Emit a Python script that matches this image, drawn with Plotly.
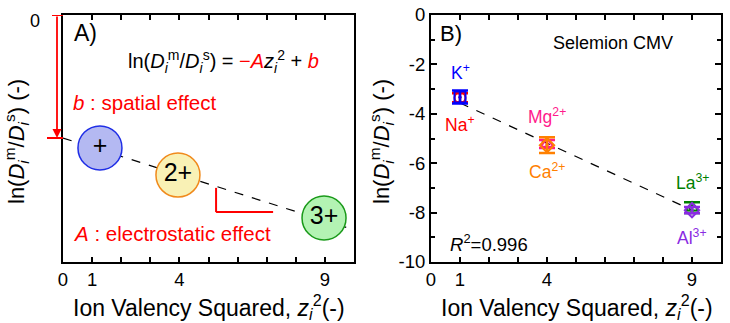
import plotly.graph_objects as go

W, H = 730, 323
FONT = "Liberation Sans, Arial, sans-serif"

# ---- Panel B data ----
ions = ["K<sup>+</sup>", "Na<sup>+</sup>", "Mg<sup>2+</sup>", "Ca<sup>2+</sup>", "La<sup>3+</sup>", "Al<sup>3+</sup>"]
z2 = [1, 1, 4, 4, 9, 9]
lnratio = [-3.32, -3.35, -5.22, -5.27, -7.80, -7.90]
err = [0.26, 0.18, 0.16, 0.32, 0.22, 0.13]
colors = ["#0000ff", "#ff0000", "#ff1a8c", "#ff8000", "#008000", "#8a2be2"]
symbols = ["square-open-dot", "circle-open-dot", "triangle-up-open-dot",
           "diamond-open-dot", "triangle-up-open-dot", "diamond-open-dot"]
label_y = [-2.3, -4.4, -4.1, -6.3, -6.75, -9.0]
fit_x = [1, 9]
fit_y = [-3.56, -7.90]

# ---- Panel A schematic ----
circ_x = [1.27, 3.95, 8.97]
circ_y = [-5.38, -6.48, -8.22]
circ_txt = ["+", "2+", "3+"]
circ_fill = ["#b4b9f2", "#f9f1b5", "#b3f3b3"]
circ_line = ["#1f2ee6", "#f08a1c", "#1a9a1a"]
schem_x = [0, 10]
schem_y = [-4.98, -8.70]

xtick_vals = [0, 1, 4, 9]
xtick_text = ["0", "1", "4", "9"]
ytick_vals = [0, -2, -4, -6, -8, -10]
ytick_text = ["0", "-2", "-4", "-6", "-8", "-10"]

fig = go.Figure()

# Panel A
fig.add_trace(go.Scatter(x=schem_x, y=schem_y, mode="lines",
                         line=dict(color="black", width=1.2, dash="dash"),
                         xaxis="x", yaxis="y", showlegend=False, hoverinfo="skip"))
fig.add_trace(go.Scatter(x=circ_x, y=circ_y, mode="markers+text", text=circ_txt,
                         textposition="middle center",
                         textfont=dict(family=FONT, size=25, color="black"),
                         marker=dict(size=44, color=circ_fill,
                                     line=dict(color=circ_line, width=1.5)),
                         xaxis="x", yaxis="y", showlegend=False, hoverinfo="skip"))

# Panel B
fig.add_trace(go.Scatter(x=fit_x, y=fit_y, mode="lines",
                         line=dict(color="black", width=1.2, dash="dash"),
                         xaxis="x2", yaxis="y2", showlegend=False, hoverinfo="skip"))
order = [1, 0, 2, 3, 4, 5]
for i in order:
    fig.add_trace(go.Scatter(
        x=[z2[i]], y=[lnratio[i]], mode="markers",
        marker=dict(symbol=symbols[i], size=11, color=colors[i],
                    line=dict(color=colors[i], width=2)),
        error_y=dict(type="data", array=[err[i]], color=colors[i], thickness=2.5, width=8),
        xaxis="x2", yaxis="y2", showlegend=False))

axis_common = dict(showline=True, linecolor="black", linewidth=2,
                   showgrid=False, zeroline=False, automargin=False)


def ann(x, y, text, xref, yref, size, color="black", xanchor="center", **kw):
    return dict(x=x, y=y, xref=xref, yref=yref, text=text, showarrow=False,
                xanchor=xanchor, yanchor="middle",
                font=dict(family=FONT, size=size, color=color), **kw)


annotations = []
# Panel B labels
for i in range(6):
    annotations.append(ann(z2[i], label_y[i], ions[i], "x2", "y2", 17.5, colors[i]))
annotations += [
    ann(0.25, -0.73, "B)", "x2", "y2", 22, xanchor="left"),
    ann(6.28, -1.13, "Selemion CMV", "x2", "y2", 18),
    ann(0.59, -9.23, "<i>R</i><sup>2</sup>=0.996", "x2", "y2", 18.5, xanchor="left"),
    # Panel A texts
    ann(0.3, -0.73, "A)", "x", "y", 23, xanchor="left"),
    ann(5.5, -1.9,
        "ln(<i>D</i><sub><i>i</i></sub><sup>m</sup>/<i>D</i><sub><i>i</i></sub><sup>s</sup>) = "
        "<span style='color:#ff0000'>\u2212<i>A</i></span><i>z</i><sub><i>i</i></sub><sup>2</sup> + "
        "<span style='color:#ff0000'><i>b</i></span>", "x", "y", 20),
    ann(0.28, -3.56, "<i>b</i> : spatial effect", "x", "y", 20.5, "#ff0000", xanchor="left"),
    ann(0.28, -8.83, "<i>A</i> : electrostatic effect", "x", "y", 20.5, "#ff0000", xanchor="left"),
    ann(35 / W, -0.25, "0", "paper", "y", 18),
    # red arrow (left of panel A axis)
    dict(x=57 / W, y=-4.98, xref="paper", yref="y", ax=0, ay=0, axref="pixel", ayref="y",
         text="", showarrow=True, arrowhead=2, arrowsize=1, arrowwidth=1.8, arrowcolor="#ff0000"),
]
# axis titles
ytitle = "ln(<i>D</i><sub><i>i</i></sub><sup>m</sup>/<i>D</i><sub><i>i</i></sub><sup>s</sup>) (-)"
xtitle = "Ion Valency Squared, <i>z</i><sub><i>i</i></sub><sup>2</sup>(-)"
for xc, yc in [(16, 142), (381, 142)]:
    annotations.append(ann(xc / W, 1 - yc / H, ytitle, "paper", "paper", 22, textangle=-90))
for xc in [209, 577]:
    annotations.append(ann(xc / W, 1 - 307 / H, xtitle, "paper", "paper", 23))

shapes = [
    dict(type="line", xref="paper", yref="y", x0=52 / W, x1=63 / W, y0=0, y1=0,
         line=dict(color="#ff0000", width=2)),
    dict(type="line", xref="paper", yref="y", x0=47 / W, x1=63 / W, y0=-4.98, y1=-4.98,
         line=dict(color="#ff0000", width=2)),
    dict(type="line", xref="x", yref="y", x0=5.26, x1=5.26, y0=-7.0, y1=-7.98,
         line=dict(color="#ff0000", width=2)),
    dict(type="line", xref="x", yref="y", x0=5.26, x1=7.22, y0=-7.98, y1=-7.98,
         line=dict(color="#ff0000", width=2)),
]

xaxis_style = dict(range=[0, 10], tickvals=xtick_vals, ticktext=xtick_text,
                   ticks="inside", ticklen=5, tickwidth=1.5, tickcolor="black",
                   minor=dict(dtick=1, ticks="inside", ticklen=5, tickwidth=1.5, tickcolor="black"),
                   tickfont=dict(family=FONT, size=18.5), mirror="allticks", **axis_common)

fig.update_layout(
    width=W, height=H, margin=dict(l=0, r=0, t=0, b=0, pad=0, autoexpand=False),
    paper_bgcolor="white", plot_bgcolor="white",
    font=dict(family=FONT, size=16, color="black"),
    xaxis=dict(domain=[63 / W, 354 / W], anchor="y", **xaxis_style),
    yaxis=dict(domain=[1 - 262 / H, 1 - 15 / H], range=[-10, 0], showticklabels=False,
               ticks="", anchor="x", mirror=True, **axis_common),
    xaxis2=dict(domain=[431 / W, 721 / W], anchor="y2", **xaxis_style),
    yaxis2=dict(domain=[1 - 262 / H, 1 - 15 / H], range=[-10, 0], tickvals=ytick_vals,
                ticktext=ytick_text,
                ticks="inside", ticklen=6, tickwidth=1.5, tickcolor="black",
                minor=dict(dtick=1, ticks="inside", ticklen=4, tickwidth=1.5, tickcolor="black"),
                tickfont=dict(family=FONT, size=18.5), anchor="x2", mirror="allticks", **axis_common),
    annotations=annotations, shapes=shapes,
)

fig.write_html("out.html")
